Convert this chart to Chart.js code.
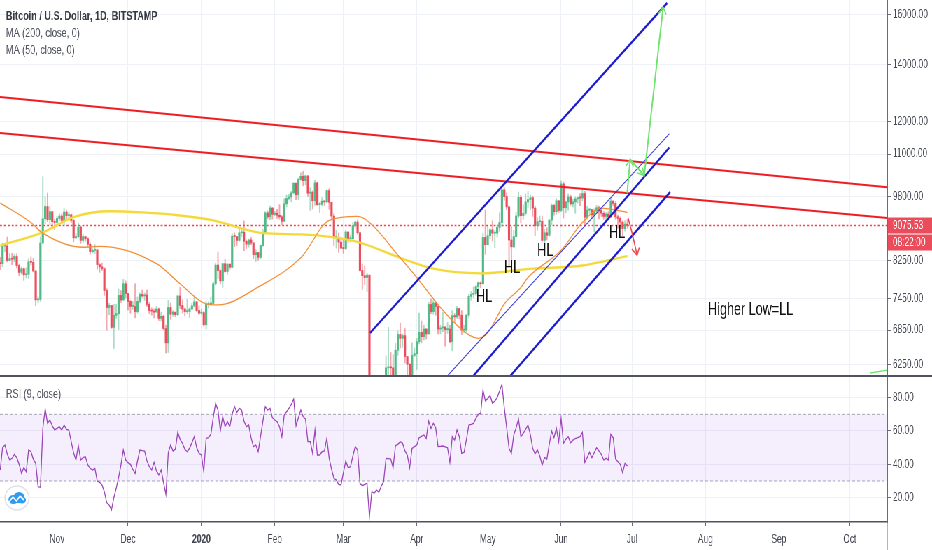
<!DOCTYPE html>
<html>
<head>
<meta charset="utf-8">
<title>BTCUSD 1D</title>
<script src="https://cdn.jsdelivr.net/npm/chart.js@4.4.0/dist/chart.umd.min.js"></script>
<style>
  html, body { margin: 0; padding: 0; background: #fff; overflow: hidden; }
  /* the source screenshot is squeezed horizontally, so draw wide and squeeze */
  #stage { position: absolute; left: 0; top: 0; width: 1332px; height: 550px;
           transform: scaleX(0.6997); transform-origin: 0 0; }
  #price { position: absolute; left: 0; top: 0; }
  #rsi { position: absolute; left: 0; top: 377px; }
</style>
</head>
<body>
<div id="stage">
  <canvas id="price" width="1332" height="377"></canvas>
  <canvas id="rsi" width="1332" height="173"></canvas>
</div>
<script>
// days are counted from 1 Nov 2019; first candle is 8 Oct 2019
const firstDay = -24;
const firstOpen = 8210;

const closes = [
  // Oct 8-31
  8190, 8590, 8590, 8260, 8300, 8290, 8350, 8150, 8000, 8080, 7950, 7960, 8230, 8220, 8030, 7430, 7440, 8660, 9240, 9550, 9220, 9420, 9170, 9150,
  // Nov
  9250, 9310, 9200, 9410, 9320, 9340, 9200, 8780, 8810, 9040, 8720, 8810, 8760, 8630, 8460, 8490, 8500, 8170, 8120, 8080, 7620, 7280, 7320, 6900, 7130, 7160, 7520, 7430, 7760, 7560,
  // Dec
  7400, 7300, 7300, 7200, 7400, 7540, 7510, 7530, 7340, 7220, 7210, 7190, 7250, 7070, 7110, 6880, 6620, 7280, 7150, 7190, 7140, 7510, 7320, 7250, 7200, 7200, 7250, 7310, 7390, 7220, 7170,
  // Jan
  7180, 6950, 7340, 7350, 7360, 7760, 8160, 8040, 7820, 8190, 8020, 8180, 8110, 8820, 8810, 8720, 8900, 8910, 8700, 8630, 8730, 8660, 8390, 8440, 8330, 8600, 8900, 9390, 9290, 9510, 9350,
  // Feb
  9380, 9330, 9290, 9180, 9620, 9760, 9800, 9910, 10170, 9860, 10270, 10360, 10240, 10370, 9900, 9930, 9700, 10180, 9600, 9610, 9690, 9670, 9970, 9660, 9310, 8790, 8790, 8680, 8540,
  // Mar
  8530, 8920, 8760, 8760, 9070, 9160, 8900, 8040, 7930, 7890, 7940, 4860, 5560, 5170, 5360, 5020, 5330, 5410, 6190, 6200, 6190, 5830, 6490, 6770, 6700, 6750, 6380, 6250, 5880, 6400, 6430,
  // Apr
  6640, 6810, 6730, 6870, 6780, 7340, 7200, 7370, 7300, 6870, 6890, 6910, 6860, 6870, 6640, 7120, 7100, 7260, 7130, 6850, 6850, 7130, 7500, 7540, 7560, 7700, 7780, 7760, 8790, 8620,
  // May
  8830, 8970, 8890, 8890, 9030, 9150, 9990, 9810, 9540, 8730, 8570, 8810, 9310, 9790, 9320, 9380, 9670, 9730, 9780, 9510, 9070, 9170, 9180, 8720, 8900, 8840, 9210, 9580, 9420, 9700, 9450,
  // Jun 1-29
  10150, 9520, 9670, 9800, 9620, 9670, 9750, 9780, 9770, 9890, 9280, 9460, 9470, 9340, 9430, 9520, 9460, 9380, 9300, 9360, 9290, 9690, 9630, 9290, 9250, 9160, 9000, 9110, 9075.53
];

const highs = [
  8330, 8660, 8650, 8800, 8420, 8420, 8400, 8410, 8180, 8120, 8100, 8100, 8300, 8340, 8310, 8040, 7500, 8800, 10350, 9800, 9900, 9550, 9420, 9230,
  9300, 9370, 9370, 9500, 9460, 9420, 9370, 9220, 8880, 9140, 9070, 8860, 8820, 8780, 8660, 8530, 8620, 8500, 8190, 8200, 8100, 7660, 7360, 7320, 7340, 7340, 7650, 7620, 7850, 7820,
  7560, 7420, 7400, 7760, 7490, 7570, 7630, 7570, 7630, 7380, 7270, 7250, 7300, 7270, 7190, 7130, 6940, 7420, 7370, 7220, 7190, 7520, 7690, 7430, 7270, 7440, 7270, 7360, 7520, 7400, 7310,
  7250, 7200, 7400, 7390, 7490, 7800, 8200, 8450, 8050, 8200, 8290, 8190, 8190, 8880, 8900, 8800, 9000, 8990, 9190, 8730, 8750, 8790, 8670, 8510, 8440, 8610, 8980, 9420, 9440, 9560, 9530,
  9430, 9480, 9600, 9320, 9750, 9850, 9870, 9950, 10180, 10170, 10310, 10460, 10500, 10390, 10380, 10050, 9960, 10250, 10200, 9660, 9780, 9700, 9990, 10020, 9660, 9380, 8960, 8900, 8800,
  8750, 8960, 8920, 8840, 9150, 9180, 9210, 8910, 8180, 8140, 7980, 7950, 5950, 5640, 5940, 5370, 5560, 5440, 6390, 6900, 6450, 6410, 6610, 6840, 6980, 6780, 6880, 6290, 6260, 6620, 6530,
  6700, 7170, 7020, 6940, 6880, 7380, 7450, 7420, 7380, 7310, 6940, 7190, 6910, 6990, 6940, 7220, 7160, 7300, 7260, 7220, 6940, 7150, 7540, 7600, 7690, 7720, 7800, 7800, 8890, 9460,
  9060, 9000, 9190, 8950, 9080, 9390, 10000, 10050, 9910, 9570, 9050, 8960, 9400, 9930, 9840, 9590, 9880, 9950, 9850, 9820, 9560, 9270, 9310, 9300, 8980, 9020, 9220, 9620, 9610, 9750, 9700,
  10230, 10200, 9690, 9880, 9850, 9740, 9800, 9800, 9880, 9990, 9950, 9560, 9500, 9480, 9490, 9580, 9560, 9480, 9420, 9400, 9420, 9780, 9700, 9680, 9330, 9290, 9190, 9190, 9230
];

const lows = [
  8060, 8120, 8460, 8230, 8260, 8170, 8230, 8100, 7930, 7960, 7830, 7880, 7870, 8160, 8010, 7320, 7370, 7400, 8650, 9120, 9170, 9100, 9050, 8980,
  9050, 9200, 9120, 9100, 9200, 9250, 9140, 8690, 8760, 8780, 8650, 8660, 8700, 8570, 8400, 8430, 8420, 8070, 8000, 8040, 7520, 6850, 7140, 6880, 6520, 7070, 6860, 7380, 7420, 7470,
  7230, 7170, 7240, 7080, 7170, 7370, 7480, 7420, 7300, 7160, 7130, 7080, 7200, 7030, 7020, 6850, 6440, 6450, 7050, 7110, 7100, 7120, 7260, 7170, 7120, 7160, 7090, 7240, 7290, 7200, 7140,
  7150, 6920, 6870, 7270, 7320, 7350, 7730, 7870, 7760, 7680, 8000, 7960, 8060, 8100, 8580, 8600, 8700, 8810, 8480, 8530, 8560, 8620, 8300, 8240, 8270, 8300, 8580, 8880, 9240, 9220, 9230,
  9320, 9250, 9230, 9100, 9170, 9540, 9730, 9670, 9880, 9730, 9730, 10250, 10100, 10130, 9820, 9450, 9490, 9580, 9580, 9400, 9570, 9580, 9650, 9480, 9240, 8600, 8540, 8450, 8530,
  8420, 8500, 8660, 8680, 8750, 9010, 8860, 8030, 7640, 7740, 7600, 4440, 3850, 5090, 5100, 4440, 4970, 5090, 5240, 5680, 5860, 5750, 5700, 6400, 6530, 6540, 6270, 6030, 5860, 5870, 6380,
  6160, 6600, 6620, 6670, 6690, 6780, 7160, 7150, 7130, 6780, 6780, 6820, 6560, 6790, 6620, 6480, 6990, 7070, 7060, 6770, 6800, 6820, 7080, 7420, 7470, 7520, 7630, 7680, 7750, 8400,
  8620, 8760, 8710, 8550, 8800, 8930, 9050, 9710, 9470, 8130, 8280, 8550, 8800, 9260, 9140, 9230, 9340, 9530, 9470, 9300, 8830, 8960, 9080, 8700, 8640, 8730, 8820, 9100, 9330, 9350, 9400,
  9420, 9260, 9390, 9460, 9580, 9540, 9380, 9640, 9570, 9700, 9090, 9230, 9370, 9260, 8920, 9370, 9240, 9300, 9230, 9170, 9280, 9280, 9570, 9230, 9010, 9040, 8830, 8940, 9010
];

const rsiValues = [
  36.6, 50, 51.6, 46, 42.6, 43.6, 46, 44, 40, 34.6,
  38, 35.6, 48.6, 47.6, 43, 40.6, 26.6, 26.2, 61.6, 73.2,
  64.6, 66.6, 63, 60.6, 61.6, 62.6, 60.6, 63.6, 61, 60.6,
  53.6, 47, 42.6, 51.2, 42.6, 44, 44.6, 39.6, 37.6, 36.6,
  37.6, 30, 29.2, 27.6, 23.6, 17, 15.6, 12.6, 20, 25.6,
  32, 39.6, 48.6, 42.6, 41, 40, 37, 34.6, 42, 48.6,
  48.2, 48, 42, 38.6, 36.6, 41.2, 36, 33.6, 36.6, 29,
  22, 47, 51.6, 48, 49.2, 59.2, 55, 52.6, 49, 47.6,
  49.6, 53, 56.6, 50, 46.6, 45.6, 35.6, 55.6, 56, 58,
  68, 76.6, 72.6, 60, 68.6, 62.6, 65.6, 62.6, 70, 74.6,
  71.2, 73.6, 72.6, 66, 62.6, 63.6, 56, 50.6, 51.6, 47.6,
  56.6, 66, 74.6, 72.6, 73.6, 68, 66.6, 65.6, 62.6, 56.6,
  69.6, 71.6, 73.6, 76, 79.2, 63.2, 68, 72.6, 68.6, 67.2,
  53.6, 53.6, 46.6, 60.6, 45.6, 45.6, 47.6, 48, 55.6, 43.6,
  37, 31.6, 30.6, 28, 27.6, 35, 42, 38, 38.6, 45,
  50.6, 48.6, 28.6, 27.2, 28, 28.6, 8.6, 23.6, 22.6, 24.6,
  23.2, 27, 29.6, 43.6, 43.4, 43.2, 38, 51.2, 52, 53.6,
  52.6, 48, 45.6, 38, 49.6, 50.6, 51.6, 56, 56.8, 57.6,
  55.6, 66, 61.6, 64.6, 62, 50.6, 50.8, 51, 50.5, 50,
  41.2, 56.6, 54.6, 60.6, 56.6, 46.6, 47.2, 55, 63.6, 64,
  64.6, 67.6, 70, 70.6, 84.6, 78, 79.5, 81.2, 76.6, 78,
  80, 84, 88, 74, 62, 49.6, 46.6, 57.6, 62, 67.2,
  56.6, 58.6, 61, 63.6, 58, 49.6, 46.2, 48.6, 45, 39.6,
  44, 43.2, 52, 60, 56, 61.6, 53.6, 67.6, 52.6, 55,
  56.6, 53, 54.5, 55.5, 56, 56.6, 59.2, 41.2, 44, 47.2,
  44, 47, 50, 48, 46, 42.6, 43.6, 42.6, 58, 56,
  43.2, 41.6, 40, 35, 40.6, 39
];

// moving averages, read at points along the drawn curves
const ma200Days = [-24, -6, 7, 22, 36, 51, 66, 87, 103, 117, 128, 145, 159, 179, 201, 222, 241];
const ma200Values = [8600, 8910, 9280, 9430, 9400, 9330, 9200, 8890, 8860, 8790, 8670, 8320, 8080, 7980, 8080, 8150, 8360];
const ma50Days = [-24, -11, -6, 11, 18, 42, 52, 63, 68, 86, 103, 115, 127, 132, 145, 153, 162, 170, 178, 182, 189, 196, 199, 213, 222, 230, 241];
const ma50Values = [9640, 9150, 8890, 8560, 8580, 8190, 7760, 7350, 7330, 7720, 8320, 9200, 9300, 9150, 8320, 7830, 7280, 6900, 6700, 6800, 7350, 7680, 7890, 8490, 9150, 9510, 9400];

const monthDays = [0, 30, 61, 92, 121, 152, 182, 213, 243, 274, 305, 335];
const monthLabels = ['Nov', 'Dec', '2020', 'Feb', 'Mar', 'Apr', 'May', 'Jun', 'Jul', 'Aug', 'Sep', 'Oct'];
const priceTicks = [6250, 6850, 7450, 8250, 9800, 11000, 12000, 14000, 16000];
const rsiTicks = [20, 40, 60, 80];
const rsiBand = [30, 70];
const lastPrice = 9075.53;
const countdown = '08:22:00';

// hand drawn objects, as [day, price]
const redLineTop = [[-24.1, 12820], [350.8, 10060]];
const redLineLow = [[-24.1, 11640], [350.8, 9260]];
const channelTop = [[132.3, 6800], [257.8, 16510]];
const channelThin = [[161.4, 5910], [258.7, 11610]];
const channelMid = [[172.6, 5910], [258.7, 11190]];
const channelLow = [[188.2, 5910], [259.1, 9930]];
const greenArrow = [[240.9, 9900], [242.2, 10840], [248.1, 10380], [256.1, 16330]];
const redArrow = [[241.3, 9260], [243.0, 8890], [245.1, 8380]];
const greenTail = [[343.6, 6104], [352, 6160]];
const hlNotes = [[180.5, 7490], [192.3, 8090], [206.3, 8480], [236.7, 8890]];
const higherLowNote = [275.1, 7230];

const titleText = 'Bitcoin / U.S. Dollar, 1D, BITSTAMP';
const maLabels = ['MA (200, close, 0)', 'MA (50, close, 0)'];
const rsiLabel = 'RSI (9, close)';

// view ranges
const X_MIN = -24.1, X_MAX = 350.8;
const PRICE_MIN = 6055, PRICE_MAX = 16644;
const RSI_MIN = 5.4, RSI_MAX = 92.4;

const K = 932 / 1332;
const AXIS_W = 64;
const GRID = '#eef1f6';
const TEXT = '#434651';
const FONT = "'Liberation Sans', Arial, sans-serif";

Chart.defaults.font.family = FONT;
Chart.defaults.font.size = 12;
Chart.defaults.color = TEXT;

const xy = pts => pts.map(([x, y]) => ({ x, y }));
const opens = closes.map((c, i) => (i === 0 ? firstOpen : closes[i - 1]));
const isUp = i => closes[i] >= opens[i];
const bodyData = closes.map((c, i) => ({ x: firstDay + i, y: [opens[i], c] }));
const wickData = closes.map((c, i) => ({
  x: firstDay + i,
  y: [Math.min(lows[i], opens[i], c), Math.max(highs[i], opens[i], c)]
}));

const line = (data, color, width, order, extra) => Object.assign({
  type: 'line', data, borderColor: color, borderWidth: width,
  pointRadius: 0, fill: false, order
}, extra || {});

const monthAxis = {
  type: 'linear', min: X_MIN, max: X_MAX, offset: false,
  afterBuildTicks: s => { s.ticks = monthDays.map(v => ({ value: v })); }
};

const priceOverlay = {
  id: 'priceOverlay',
  afterDatasetsDraw(chart) {
    const { ctx, chartArea: a, scales: { x, y } } = chart;
    const px = ([d, p]) => [x.getPixelForValue(d), y.getPixelForValue(p)];
    ctx.save();
    ctx.beginPath();
    ctx.rect(a.left, a.top, a.width, a.height);
    ctx.clip();

    const head = (from, to, color) => {
      const [x0, y0] = px(from), [x1, y1] = px(to);
      const ang = Math.atan2(y1 - y0, (x1 - x0) * K);
      ctx.strokeStyle = color;
      ctx.lineWidth = 1.6;
      ctx.beginPath();
      [-0.5, 0.5].forEach(s => {
        ctx.moveTo(x1, y1);
        ctx.lineTo(x1 - Math.cos(ang + s) * 8 / K, y1 - Math.sin(ang + s) * 8);
      });
      ctx.stroke();
    };
    for (let i = 1; i < greenArrow.length; i++) head(greenArrow[i - 1], greenArrow[i], '#6ee36e');
    head(redArrow[redArrow.length - 2], redArrow[redArrow.length - 1], '#f0474f');

    ctx.fillStyle = '#111';
    ctx.font = '18px ' + FONT;
    ctx.textAlign = 'center';
    ctx.textBaseline = 'middle';
    hlNotes.forEach(n => {
      const [nx, ny] = px(n);
      ctx.fillText('HL', nx, ny);
    });
    ctx.textAlign = 'left';
    const [hx, hy] = px(higherLowNote);
    ctx.fillText('Higher Low=LL', hx, hy);
    ctx.restore();
  },
  afterDraw(chart) {
    const { ctx, chartArea: a, scales: { y } } = chart;
    ctx.save();
    // pane separator
    ctx.fillStyle = '#50535e';
    ctx.fillRect(0, a.bottom - 1, chart.width, 2);

    // legend
    ctx.textAlign = 'left';
    ctx.textBaseline = 'middle';
    ctx.fillStyle = '#363a45';
    ctx.font = 'bold 13px ' + FONT;
    ctx.fillText(titleText, 6 / K, 16);
    ctx.font = '13px ' + FONT;
    ctx.fillStyle = '#50535e';
    ctx.fillText(maLabels[0], 6 / K, 33.5);
    ctx.fillText(maLabels[1], 6 / K, 50.5);

    // last price tag and countdown
    const yy = y.getPixelForValue(lastPrice);
    ctx.font = '12px ' + FONT;
    ctx.fillStyle = '#ea4c5b';
    ctx.fillRect(a.right + 1, yy - 8, chart.width - a.right, 16);
    ctx.fillRect(a.right + 1, yy + 9, chart.width - a.right, 16);
    ctx.fillStyle = '#fff';
    ctx.fillText(lastPrice.toFixed(2), a.right + 8, yy);
    ctx.fillText(countdown, a.right + 8, yy + 17);
    ctx.restore();
  }
};

new Chart(document.getElementById('price'), {
  type: 'bar',
  data: {
    datasets: [
      line(xy([[X_MIN, lastPrice], [X_MAX, lastPrice]]), '#f2414f', 1.3, 30, { borderDash: [2.8, 2.8] }),
      {
        label: 'wicks', data: wickData, grouped: false, barThickness: 1.3, order: 29,
        backgroundColor: c => (isUp(c.dataIndex) ? 'rgba(83,185,135,0.5)' : 'rgba(235,77,92,0.5)')
      },
      {
        label: 'bodies', data: bodyData, grouped: false, barThickness: 2.5, minBarLength: 1, order: 28,
        backgroundColor: c => (isUp(c.dataIndex) ? '#53b987' : '#eb4d5c')
      },
      line(ma200Days.map((d, i) => ({ x: d, y: ma200Values[i] })), '#f3d93a', 2.3, 20, { cubicInterpolationMode: 'monotone' }),
      line(ma50Days.map((d, i) => ({ x: d, y: ma50Values[i] })), '#f28f38', 1.3, 19, { cubicInterpolationMode: 'monotone' }),
      line(xy(redLineTop), '#ee1d23', 2, 10),
      line(xy(redLineLow), '#ee1d23', 2, 10),
      line(xy(channelTop), '#1b1bd0', 2.4, 9),
      line(xy(channelThin), '#3434d6', 1.1, 9),
      line(xy(channelMid), '#1b1bd0', 2.4, 9),
      line(xy(channelLow), '#1b1bd0', 2.4, 9),
      line(xy(greenArrow), '#6ee36e', 2, 8),
      line(xy(redArrow), '#f0474f', 1.6, 8, { tension: 0.3 }),
      line(xy(greenTail), '#6ee36e', 1.4, 8)
    ]
  },
  options: {
    responsive: false, animation: false, devicePixelRatio: 1,
    layout: { padding: 0 },
    events: [],
    plugins: { legend: { display: false }, tooltip: { enabled: false } },
    scales: {
      x: Object.assign({}, monthAxis, {
        ticks: { display: false },
        grid: { color: GRID, drawTicks: false, offset: false },
        border: { display: false },
        afterFit: s => { s.height = 1; s.paddingLeft = 0; s.paddingRight = 0; }
      }),
      y: {
        type: 'logarithmic', position: 'right', min: PRICE_MIN, max: PRICE_MAX,
        afterBuildTicks: s => { s.ticks = priceTicks.map(v => ({ value: v })); },
        ticks: { callback: v => Number(v).toFixed(2), padding: 3, autoSkip: false, color: TEXT },
        grid: { color: GRID, tickColor: '#6a6d78', tickLength: 5 },
        border: { color: '#6a6d78' },
        afterFit: s => { s.width = AXIS_W; s.paddingTop = 0; s.paddingBottom = 0; }
      }
    }
  },
  plugins: [priceOverlay]
});

const rsiOverlay = {
  id: 'rsiOverlay',
  afterDraw(chart) {
    const { ctx, chartArea: a } = chart;
    ctx.save();
    ctx.fillStyle = '#6a6d78';
    ctx.fillRect(a.right - 0.5, a.bottom, 1, chart.height - a.bottom);

    ctx.textAlign = 'left';
    ctx.textBaseline = 'middle';
    ctx.fillStyle = '#50535e';
    ctx.font = '13px ' + FONT;
    ctx.fillText(rsiLabel, 6 / K, 17);

    // TradingView badge
    const cx = 17 / K, cy = 121, r = 12;
    ctx.fillStyle = '#fff';
    ctx.strokeStyle = '#dde1ea';
    ctx.lineWidth = 1.5;
    ctx.beginPath();
    ctx.ellipse(cx, cy, r / K, r, 0, 0, Math.PI * 2);
    ctx.fill();
    ctx.stroke();
    ctx.fillStyle = '#2f9cf0';
    ctx.beginPath();
    ctx.ellipse(cx - 3.5 / K, cy + 1.5, 5 / K, 4.5, 0, 0, Math.PI * 2);
    ctx.ellipse(cx + 2 / K, cy - 0.5, 5.5 / K, 5.5, 0, 0, Math.PI * 2);
    ctx.ellipse(cx + 5 / K, cy + 2, 4 / K, 3.5, 0, 0, Math.PI * 2);
    ctx.fill();
    ctx.strokeStyle = '#fff';
    ctx.lineWidth = 1.6;
    ctx.beginPath();
    ctx.moveTo(cx - 8 / K, cy + 4);
    ctx.lineTo(cx - 4 / K, cy - 1);
    ctx.lineTo(cx - 0.5 / K, cy + 3);
    ctx.lineTo(cx + 3 / K, cy - 2);
    ctx.lineTo(cx + 7 / K, cy + 2);
    ctx.stroke();
    ctx.restore();
  }
};

new Chart(document.getElementById('rsi'), {
  type: 'line',
  data: {
    datasets: [
      line(rsiValues.map((v, i) => ({ x: firstDay + i, y: v })), '#9c44b8', 1.3, 1),
      line(xy([[X_MIN, rsiBand[1]], [X_MAX, rsiBand[1]]]), '#a8a3b8', 1, 3,
        { borderDash: [4, 3], fill: '+1', backgroundColor: 'rgba(150, 90, 235, 0.1)' }),
      line(xy([[X_MIN, rsiBand[0]], [X_MAX, rsiBand[0]]]), '#a8a3b8', 1, 3, { borderDash: [4, 3] })
    ]
  },
  options: {
    responsive: false, animation: false, devicePixelRatio: 1,
    layout: { padding: 0 },
    events: [],
    plugins: { legend: { display: false }, tooltip: { enabled: false } },
    scales: {
      x: Object.assign({}, monthAxis, {
        ticks: {
          callback: (v, i) => monthLabels[i], padding: 6, maxRotation: 0, autoSkip: false, color: TEXT,
          font: c => ({ size: 12, weight: c.tick && c.tick.value === 61 ? 'bold' : 'normal' })
        },
        grid: { color: GRID, tickColor: '#6a6d78', tickLength: 4 },
        border: { color: '#50535e', width: 1.5 },
        afterFit: s => { s.height = 28; s.paddingLeft = 0; s.paddingRight = 0; }
      }),
      y: {
        type: 'linear', position: 'right', min: RSI_MIN, max: RSI_MAX,
        afterBuildTicks: s => { s.ticks = rsiTicks.map(v => ({ value: v })); },
        ticks: { callback: v => Number(v).toFixed(2), padding: 3, autoSkip: false, color: TEXT },
        grid: { color: GRID, tickColor: '#6a6d78', tickLength: 5 },
        border: { color: '#6a6d78' },
        afterFit: s => { s.width = AXIS_W; s.paddingTop = 0; s.paddingBottom = 0; }
      }
    }
  },
  plugins: [rsiOverlay]
});
</script>
</body>
</html>
